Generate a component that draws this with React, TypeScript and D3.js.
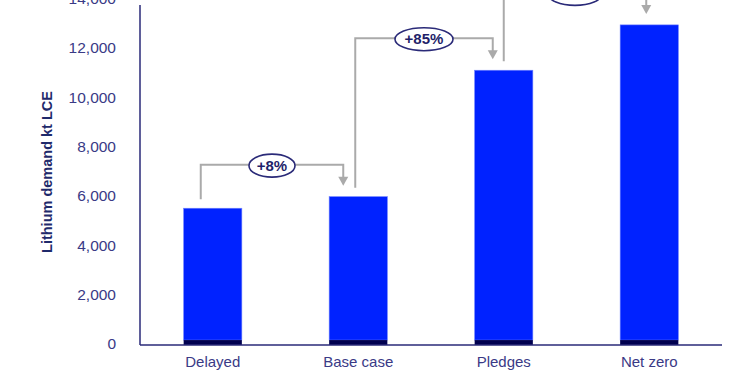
import * as d3 from "d3";

const scenarios = ["Delayed", "Base case", "Pledges", "Net zero"];
const baseValues = [200, 200, 200, 200];
const totalValues = [5550, 6020, 11150, 12990];
const yTicks = [0, 2000, 4000, 6000, 8000, 10000, 12000, 14000];

const changeLabels = ["+8%", "+85%", "+17%"];
const changeFrom = [0, 1, 2];
const changeTo = [1, 2, 3];
// horizontal nudges of the connector ends relative to bar centres
const startNudge = [-12, -3, 0];
const endNudge = [-15, -11, -3];
const labelRx = [23, 29, 27];

const WIDTH = 750;
const HEIGHT = 375;
const MARGIN = { top: 0, right: 28, bottom: 30, left: 140 };
const NAVY = "#2a2a78";
const TEXT = "#3a3a86";
const BLUE = "#0022ff";
const DARK = "#00004f";
const GREY = "#aaaaaa";

export default function App() {
  const x = d3
    .scaleBand<string>()
    .domain(scenarios)
    .range([MARGIN.left, WIDTH - MARGIN.right])
    .paddingInner(0.6)
    .paddingOuter(0.3);
  const y = d3.scaleLinear().domain([0, 14000]).range([HEIGHT - MARGIN.bottom, MARGIN.top]);
  const bw = x.bandwidth();
  const center = (i: number) => (x(scenarios[i]) ?? 0) + bw / 2;

  return (
    <svg
      width={WIDTH}
      height={HEIGHT}
      viewBox={`0 0 ${WIDTH} ${HEIGHT}`}
      style={{ position: "absolute", left: 0, top: 0, background: "#fff" }}
      fontFamily="'Liberation Sans', Arial, sans-serif"
    >
      {scenarios.map((s, i) => (
        <g key={s}>
          <rect x={x(s)} y={y(totalValues[i])} width={bw} height={y(baseValues[i]) - y(totalValues[i])} fill={BLUE} stroke="#6d80ff" strokeWidth={0.6} />
          <rect x={x(s)} y={y(baseValues[i])} width={bw} height={y(0) - y(baseValues[i])} fill={DARK} />
          <text x={center(i)} y={y(0) + 18} textAnchor="middle" dominantBaseline="middle" fontSize={15} fill={TEXT}>
            {s}
          </text>
        </g>
      ))}

      {changeLabels.map((label, k) => {
        const i = changeFrom[k];
        const j = changeTo[k];
        const x0 = center(i) + startNudge[k];
        const x1 = center(j) + endNudge[k];
        const y0 = y(totalValues[i]) - 9;
        const yTip = y(totalValues[j]) - 11;
        const yh = y(totalValues[j]) - 32;
        const mid = (x0 + x1) / 2;
        return (
          <g key={label}>
            <path d={`M${x0},${y0}V${yh}H${x1}V${yTip - 8}`} fill="none" stroke={GREY} strokeWidth={2} />
            <path d={`M${x1 - 5},${yTip - 9}L${x1 + 5},${yTip - 9}L${x1},${yTip}Z`} fill={GREY} />
            <ellipse cx={mid} cy={yh + 1} rx={labelRx[k]} ry={11.5} fill="#fff" stroke={NAVY} strokeWidth={1.6} />
            <text x={mid} y={yh + 2} textAnchor="middle" dominantBaseline="middle" fontSize={15} fontWeight="bold" fill="#1f1f6a">
              {label}
            </text>
          </g>
        );
      })}

      {yTicks.map((t) => (
        <text key={t} x={MARGIN.left - 24} y={y(t)} textAnchor="end" dominantBaseline="middle" fontSize={15.5} fill={TEXT}>
          {d3.format(",")(t)}
        </text>
      ))}

      <line x1={MARGIN.left} x2={MARGIN.left} y1={5} y2={y(0)} stroke={NAVY} strokeWidth={1.5} />
      <line x1={MARGIN.left} x2={WIDTH - MARGIN.right} y1={y(0)} y2={y(0)} stroke={NAVY} strokeWidth={1.5} />

      <text
        transform={`translate(48 ${172}) rotate(-90)`}
        textAnchor="middle"
        dominantBaseline="middle"
        fontSize={14.5}
        fontWeight="bold"
        fill="#1f2a6b"
      >
        Lithium demand kt LCE
      </text>
    </svg>
  );
}
